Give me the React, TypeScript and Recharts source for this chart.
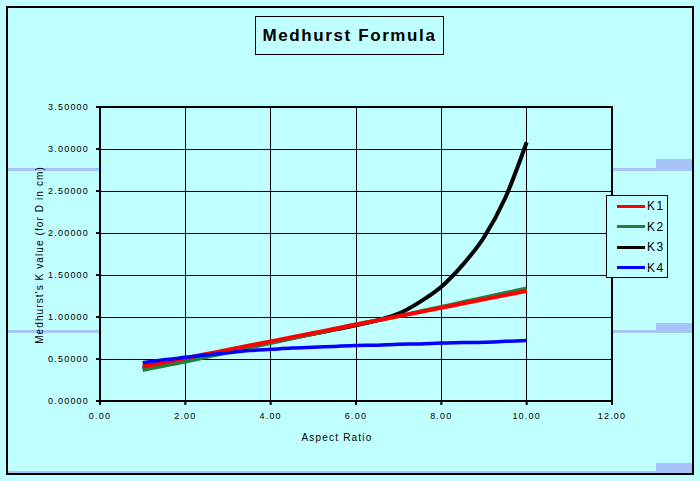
import React from "react";
import {
	CartesianGrid,
	Line,
	LineChart,
	ReferenceArea,
	XAxis,
	YAxis,
} from "recharts";

// aspect ratio samples
const aspectRatios: number[] = [
	1, 1.5, 2, 2.5, 3, 3.5, 4, 4.5, 5, 5.5, 6, 6.5, 7, 7.5, 8, 8.5, 9, 9.5, 10,
];

const k1: number[] = [
	0.41, 0.46, 0.51, 0.56, 0.61, 0.66, 0.71, 0.76, 0.81, 0.86, 0.91, 0.96, 1.01,
	1.06, 1.11, 1.16, 1.21, 1.26, 1.31,
];
const k2: number[] = [
	0.37, 0.42, 0.47, 0.525, 0.58, 0.635, 0.69, 0.745, 0.8, 0.855, 0.91, 0.96,
	1.01, 1.065, 1.12, 1.175, 1.23, 1.285, 1.34,
];
const k3: number[] = [
	0.39, 0.44, 0.49, 0.545, 0.6, 0.65, 0.7, 0.75, 0.8, 0.85, 0.9, 0.96, 1.04,
	1.18, 1.36, 1.62, 1.95, 2.42, 3.08,
];
const k4: number[] = [
	0.455, 0.49, 0.52, 0.55, 0.575, 0.6, 0.615, 0.63, 0.64, 0.65, 0.66, 0.665,
	0.675, 0.68, 0.69, 0.695, 0.7, 0.71, 0.72,
];

const xTicks: number[] = [0, 2, 4, 6, 8, 10, 12];
const yTicks: number[] = [0, 0.5, 1, 1.5, 2, 2.5, 3, 3.5];

const SERIES = [
	{ key: "K1", color: "#ff0000" },
	{ key: "K2", color: "#218040" },
	{ key: "K3", color: "#000000" },
	{ key: "K4", color: "#0000ff" },
];
// drawing order (red over black/green, blue on top)
const DRAW_ORDER = ["K3", "K2", "K1", "K4"];

const chartData = aspectRatios.map((x, i) => ({
	x,
	K1: k1[i],
	K2: k2[i],
	K3: k3[i],
	K4: k4[i],
}));

const BG = "#c0ffff";
const BAND = "#a6c4fa";
const FONT = "Arial, 'Liberation Sans', sans-serif";

const band = (
	left: number,
	top: number,
	width: number,
	height: number,
): React.CSSProperties => ({
	position: "absolute",
	left,
	top,
	width,
	height,
	background: BAND,
});

const tickStyle = {
	fill: "#000",
	fontSize: 9,
	letterSpacing: 1.2,
	fontFamily: FONT,
};

const App = () => {
	return (
		<div
			style={{
				position: "fixed",
				left: 0,
				top: 0,
				width: 700,
				height: 481,
				background: BG,
				overflow: "hidden",
				fontFamily: FONT,
			}}
		>
			{/* pale bands in the background */}
			<div style={band(8, 168, 92, 3)} />
			<div style={band(8, 330, 92, 3)} />
			<div style={band(612, 168, 80, 3)} />
			<div style={band(656, 159, 36, 12)} />
			<div style={band(612, 330, 80, 3)} />
			<div style={band(656, 323, 36, 10)} />
			<div style={band(8, 471, 684, 2)} />
			<div style={band(656, 463, 36, 10)} />

			<div style={{ position: "absolute", left: 0, top: 0 }}>
				<LineChart
					width={700}
					height={481}
					data={chartData}
					margin={{ top: 107, right: 88, bottom: 50, left: 30 }}
				>
					<CartesianGrid
						stroke="#000"
						strokeWidth={1}
						shapeRendering="crispEdges"
					/>
					<XAxis
						dataKey="x"
						type="number"
						domain={[0, 12]}
						ticks={xTicks}
						tickFormatter={(v: number) => v.toFixed(2)}
						height={30}
						stroke="#000"
						strokeWidth={2}
						tickSize={4}
						tickMargin={8}
						tick={tickStyle}
					/>
					<YAxis
						type="number"
						domain={[0, 3.5]}
						ticks={yTicks}
						tickFormatter={(v: number) => v.toFixed(5)}
						width={70}
						stroke="#000"
						strokeWidth={2}
						tickSize={4}
						tickMargin={7}
						tick={tickStyle}
					/>
					<ReferenceArea
						x1={0}
						x2={12}
						y1={0}
						y2={3.5}
						fill="none"
						stroke="#000"
						strokeWidth={2}
						ifOverflow="visible"
					/>
					{DRAW_ORDER.map((key) => {
						const s = SERIES.find((item) => item.key === key);
						return (
							<Line
								key={key}
								type="monotone"
								dataKey={key}
								stroke={s ? s.color : "#000"}
								strokeWidth={key === "K4" ? 3.5 : 4}
								dot={false}
								isAnimationActive={false}
							/>
						);
					})}
				</LineChart>
			</div>

			{/* title */}
			<div
				style={{
					position: "absolute",
					left: 255,
					top: 16,
					width: 187,
					height: 37,
					border: "1px solid #000",
					display: "flex",
					alignItems: "center",
					justifyContent: "center",
					fontSize: 17,
					fontWeight: "bold",
					letterSpacing: 1.6,
				}}
			>
				Medhurst Formula
			</div>

			{/* axis titles */}
			<div
				style={{
					position: "absolute",
					left: 40 - 120,
					top: 255 - 8,
					width: 240,
					height: 16,
					lineHeight: "16px",
					textAlign: "center",
					transform: "rotate(-90deg)",
					fontSize: 10,
					letterSpacing: 1.1,
				}}
			>
				Medhurst's K value (for D in cm)
			</div>
			<div
				style={{
					position: "absolute",
					left: 337 - 100,
					top: 438 - 8,
					width: 200,
					height: 16,
					lineHeight: "16px",
					textAlign: "center",
					fontSize: 10,
					letterSpacing: 1.2,
				}}
			>
				Aspect Ratio
			</div>

			{/* legend */}
			<div
				style={{
					position: "absolute",
					left: 606,
					top: 195,
					width: 60,
					height: 81,
					border: "1px solid #000",
					background: BG,
				}}
			>
				{SERIES.map((s, i) => (
					<div
						key={s.key}
						style={{
							position: "absolute",
							left: 10,
							top: 2 + i * 20.5,
							display: "flex",
							alignItems: "center",
							height: 16,
						}}
					>
						<div
							style={{
								width: 28,
								height: 3,
								background: s.color,
							}}
						/>
						<span
							style={{
								marginLeft: 2,
								fontSize: 12,
								letterSpacing: 1.5,
							}}
						>
							{s.key}
						</span>
					</div>
				))}
			</div>

			{/* outer frame */}
			<div
				style={{
					position: "absolute",
					left: 6,
					top: 6,
					width: 684,
					height: 465,
					border: "2px solid #000",
					pointerEvents: "none",
				}}
			/>
		</div>
	);
};

export default App;
